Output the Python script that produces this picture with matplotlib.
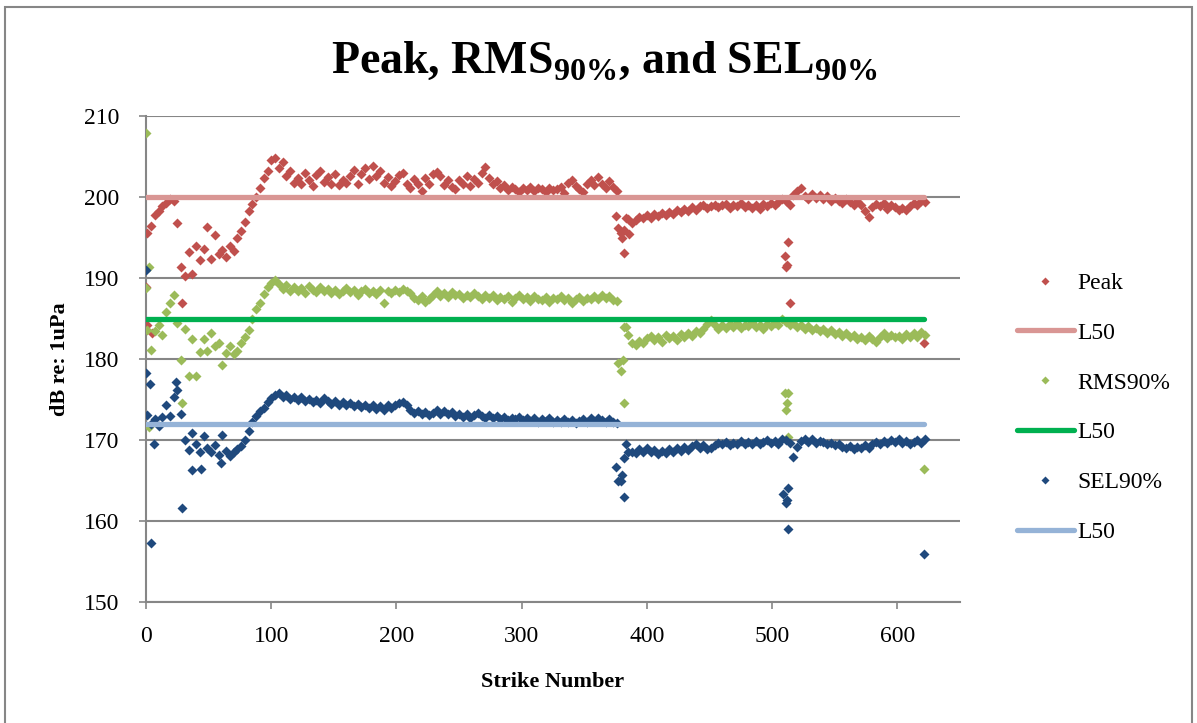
import numpy as np
import matplotlib
matplotlib.use("Agg")
import matplotlib.pyplot as plt
from matplotlib.patches import Rectangle

plt.rcParams['font.family'] = ['Liberation Serif', 'DejaVu Serif']
plt.rcParams['mathtext.fontset'] = 'custom'
plt.rcParams['mathtext.rm'] = 'Liberation Serif'
plt.rcParams['mathtext.bf'] = 'Liberation Serif:bold'

# strike numbers for the main readings (every 3rd strike)
strikes = np.arange(1, 623, 3)

peak = [
    195.6, 196.5, 197.8, 198.3, 198.9, 199.3, 199.8, 199.5, 196.8, 191.4,
    190.3, 193.2, 190.5, 194.0, 192.3, 193.6, 196.4, 192.4, 195.4, 193.0,
    193.5, 192.6, 194.0, 193.4, 195.0, 195.8, 197.0, 198.3, 199.2, 200.0,
    201.2, 202.4, 203.2, 204.6, 204.9, 203.6, 204.4, 202.6, 203.3, 201.8,
    202.4, 201.6, 203.0, 202.2, 201.4, 202.8, 203.2, 201.9, 202.5, 201.6,
    202.9, 201.5, 202.2, 201.8, 202.6, 203.4, 201.7, 202.9, 203.6, 202.3,
    203.9, 202.6, 203.3, 201.8, 202.5, 201.4, 202.0, 202.8, 203.0, 201.6,
    201.2, 202.3, 201.6, 200.8, 202.4, 201.7, 202.9, 203.1, 202.6, 201.5,
    202.2, 201.3, 201.0, 202.1, 201.6, 202.6, 201.4, 202.3, 201.8, 203.0,
    203.8, 202.4, 201.6, 202.0, 201.1, 201.5, 200.9, 201.3, 201.0, 200.7,
    201.2, 200.9, 201.3, 200.8, 201.1, 201.0, 200.7, 201.2, 200.9, 201.0,
    201.3, 200.6, 201.8, 202.1, 201.4, 201.0, 200.7, 201.6, 202.2, 201.5,
    202.5, 201.6, 201.2, 202.0, 201.3, 200.8, 195.6, 196.0, 197.3, 196.8,
    197.2, 197.6, 197.4, 197.8, 197.5, 198.0, 197.7, 198.1, 197.8, 198.2,
    198.0, 198.4, 198.2, 198.6, 198.3, 198.8, 198.5, 198.9, 199.1, 198.7,
    198.9, 199.1, 198.8, 199.0, 199.2, 198.7, 199.0, 198.9, 199.3, 198.8,
    199.1, 198.7, 199.0, 198.6, 199.2, 198.9, 199.3, 199.0, 199.4, 199.8,
    199.6, 199.0, 200.3, 200.8, 201.1, 200.2, 199.8, 200.4, 199.9, 200.3,
    199.8, 200.2, 199.5, 199.9, 199.6, 199.3, 199.8, 199.4, 199.0, 199.5,
    199.1, 198.3, 197.6, 198.8, 199.2, 198.9, 199.3, 198.6, 199.1, 198.8,
    198.5, 198.7, 198.4, 198.9, 199.3, 199.0, 199.6, 199.4,
]

rms = [
    183.6, 181.1, 183.5, 184.2, 183.0, 185.8, 186.9, 187.9, 184.5, 179.9,
    183.8, 178.0, 182.5, 178.0, 180.9, 182.5, 181.0, 183.2, 181.6, 182.0,
    179.3, 180.8, 181.7, 180.6, 181.0, 182.0, 182.8, 183.6, 185.0, 186.2,
    187.0, 188.1, 188.9, 189.4, 189.8, 189.3, 188.7, 189.2, 188.5, 188.9,
    188.4, 188.8, 188.2, 189.0, 188.6, 188.3, 188.9, 188.5, 188.7, 188.2,
    188.6, 188.1, 188.5, 188.8, 188.3, 188.6, 188.0, 188.4, 188.7, 188.2,
    188.5, 188.1, 188.6, 187.0, 188.4, 188.2, 188.6, 188.3, 188.7, 188.5,
    188.2, 187.6, 187.3, 187.8, 187.1, 187.5, 188.0, 188.4, 187.8, 188.2,
    187.7, 188.3, 187.9, 188.1, 187.6, 188.0, 187.7, 188.2, 187.8, 187.5,
    187.9, 187.6, 188.0, 187.3, 187.7, 187.4, 187.8, 187.1, 187.6, 187.9,
    187.4, 187.7, 187.2, 187.8, 187.5, 187.3, 187.7, 187.1, 187.6, 187.4,
    187.8, 187.3, 187.6, 187.0, 187.5, 187.7, 187.2, 187.6, 187.4, 187.8,
    187.5, 187.9, 187.6, 187.8, 187.3, 187.2, 178.6, 184.0, 183.0, 182.0,
    181.8, 182.3, 182.0, 182.6, 182.9, 182.4, 182.8, 182.2, 183.0, 182.6,
    182.9, 182.4, 183.1, 182.7, 183.3, 182.9, 183.5, 183.2, 183.8, 184.4,
    184.8, 184.3, 183.8, 184.2, 183.9, 184.4, 184.0, 184.5, 183.9, 184.3,
    184.1, 184.6, 184.0, 184.3, 183.8, 184.4, 184.1, 184.5, 184.2, 185.0,
    184.6, 184.2, 184.5, 184.0, 184.3, 183.8, 184.1, 183.6, 183.9, 183.5,
    183.7, 183.3, 183.6, 183.1, 183.4, 182.9, 183.2, 182.7, 183.0, 182.5,
    182.8, 182.4, 182.9, 182.5, 182.2, 182.8, 183.2, 182.6, 183.0, 182.7,
    182.9, 182.5, 183.1, 182.7, 183.3, 182.8, 183.4, 183.0,
]

sel = [
    173.1, 172.0, 172.6, 171.8, 172.9, 174.3, 173.0, 175.3, 176.2, 173.3,
    170.0, 168.8, 170.9, 169.6, 168.5, 170.5, 169.0, 168.6, 169.4, 168.2,
    170.6, 168.7, 168.1, 168.5, 168.9, 169.3, 170.0, 171.2, 172.3, 173.0,
    173.6, 174.0, 174.7, 175.2, 175.6, 175.9, 175.3, 175.6, 175.1, 175.4,
    175.0, 175.3, 174.8, 175.1, 174.7, 175.0, 174.6, 175.2, 174.9, 174.5,
    174.8, 174.4, 174.7, 174.3, 174.6, 174.2, 174.5, 174.1, 174.4, 174.0,
    174.3, 173.9, 174.2, 173.8, 174.4, 174.0, 174.3, 174.6, 174.7, 174.3,
    173.8, 173.4, 173.6, 173.2, 173.5, 173.1, 173.4, 173.7, 173.3, 173.6,
    173.2, 173.5, 173.0, 173.3, 172.9, 173.2, 172.8, 173.1, 173.4, 173.0,
    172.8, 173.1, 172.7, 173.0, 172.6, 172.9, 172.5, 172.8, 172.6, 172.9,
    172.5, 172.8, 172.4, 172.7, 172.3, 172.6, 172.4, 172.7, 172.3, 172.5,
    172.2, 172.6, 172.3, 172.5, 172.1, 172.4, 172.6, 172.3, 172.7, 172.4,
    172.8, 172.5, 172.2, 172.6, 172.3, 172.1, 165.0, 167.8, 168.5, 168.6,
    168.4, 168.9, 168.6, 169.0, 168.5, 168.8, 168.3, 168.7, 168.4, 168.9,
    168.6, 169.0, 168.7, 169.2, 168.8, 169.3, 169.5, 169.0, 169.4, 168.9,
    169.1, 169.4, 169.7, 169.5, 169.8, 169.4, 169.7, 169.5, 169.9, 169.6,
    169.8, 169.5, 169.9, 169.6, 169.8, 170.0, 169.7, 169.9, 169.6, 170.1,
    170.0, 169.7, 168.0, 169.2, 169.9, 170.2, 169.8, 170.1, 169.7, 169.9,
    169.8, 169.5, 169.7, 169.4, 169.6, 169.2, 169.0, 169.3, 168.9, 169.2,
    169.1, 169.4, 169.0, 169.6, 169.8, 169.5, 169.9, 169.7, 170.0, 169.8,
    170.1, 169.7, 169.9, 169.6, 169.8, 170.0, 169.7, 170.1,
]

# scattered single readings (strike, value)
peak_out_x = [0, 1, 5, 29, 375, 377, 380, 382, 383, 386, 510, 511, 512, 513, 514, 621]
peak_out = [188.9, 184.2, 183.3, 187.0, 197.7, 196.2, 195.0, 193.1, 197.5, 195.5,
            192.8, 191.4, 191.7, 194.5, 186.9, 182.0]
rms_out_x = [0, 0, 2, 2, 29, 377, 381, 382, 383, 510, 511, 512, 513, 513, 621]
rms_out = [208.0, 188.8, 191.4, 171.6, 174.6, 179.6, 179.9, 174.6, 184.0,
           175.8, 173.8, 174.6, 175.8, 170.4, 166.4]
sel_out_x = [0, 0, 3, 4, 6, 24, 29, 37, 44, 60, 375, 377, 380, 382, 383,
             509, 511, 512, 513, 513, 621]
sel_out = [191.0, 178.3, 177.0, 157.3, 169.6, 177.2, 161.7, 166.3, 166.5, 167.2,
           166.7, 165.0, 165.7, 163.0, 169.6, 163.4, 162.2, 162.6, 164.1, 159.1, 155.9]

l50_x = [0, 621]
peak_l50 = 200
rms_l50 = 185
sel_l50 = 172

c_peak, c_peak_l = '#C0504D', '#D99694'
c_rms, c_rms_l = '#9BBB59', '#00B050'
c_sel, c_sel_l = '#1F497D', '#95B3D7'

fig = plt.figure(figsize=(11.97, 7.23), dpi=100)
ax = fig.add_axes([0.122, 0.167, 0.680, 0.672])

ms = 5.2
ax.plot(np.concatenate([strikes, peak_out_x]), peak + peak_out, ls='none', marker='D',
        ms=ms, color=c_peak, mec='none', label='Peak', zorder=3)
ax.plot(l50_x, [peak_l50] * 2, color=c_peak_l, lw=3.8, label='L50', zorder=3,
        solid_capstyle='round')
ax.plot(np.concatenate([strikes, rms_out_x]), rms + rms_out, ls='none', marker='D',
        ms=ms, color=c_rms, mec='none', label='RMS90%', zorder=3)
ax.plot(l50_x, [rms_l50] * 2, color=c_rms_l, lw=3.8, label='L50', zorder=3,
        solid_capstyle='round')
ax.plot(np.concatenate([strikes, sel_out_x]), sel + sel_out, ls='none', marker='D',
        ms=ms, color=c_sel, mec='none', label='SEL90%', zorder=3)
ax.plot(l50_x, [sel_l50] * 2, color=c_sel_l, lw=3.8, label='L50', zorder=3,
        solid_capstyle='round')

ax.set_xlim(0, 650)
ax.set_ylim(150, 210)
ax.set_xticks(range(0, 601, 100))
ax.set_yticks(range(150, 211, 10))
ax.yaxis.grid(True, color='#868686', lw=1.5)
ax.set_axisbelow(True)
for s in ['top', 'right']:
    ax.spines[s].set_visible(False)
for s in ['left', 'bottom']:
    ax.spines[s].set_color('#868686')
    ax.spines[s].set_linewidth(1.5)
ax.tick_params(axis='both', direction='out', color='#868686', width=1.2, length=5,
               labelsize=17)
ax.tick_params(axis='x', pad=12)
ax.tick_params(axis='y', pad=14)

ax.set_xlabel('Strike Number', fontsize=16, fontweight='bold', labelpad=18)
ax.set_ylabel('dB re: 1uPa', fontsize=16, fontweight='bold', labelpad=10)
fig.text(0.505, 0.915, r'Peak, RMS$_{\mathbf{90\%}}$, and SEL$_{\mathbf{90\%}}$',
         ha='center', va='center', fontsize=33, fontweight='bold')

leg = fig.legend(loc='center left', bbox_to_anchor=(0.832, 0.436), frameon=False,
                 fontsize=17, handlelength=2.4, handletextpad=0.15, labelspacing=1.2,
                 markerscale=0.75)

fig.patches.append(Rectangle((0.004, -0.02), 0.992, 1.01, transform=fig.transFigure,
                             fill=False, edgecolor='#868686', lw=1.5))

fig.savefig('out.png', dpi=100)
